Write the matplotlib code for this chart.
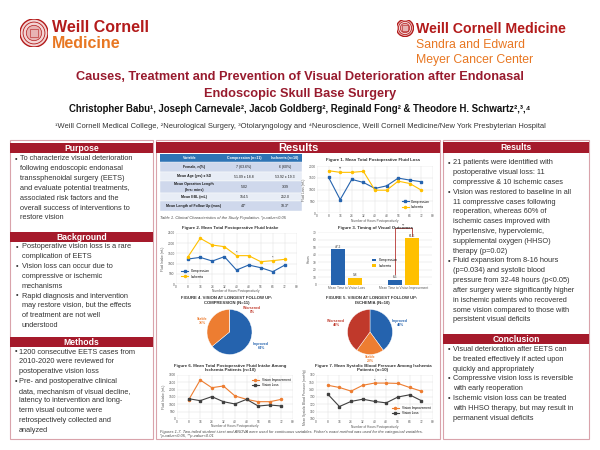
import matplotlib
matplotlib.use('Agg')
import matplotlib.pyplot as plt
from matplotlib.patches import Rectangle, Circle
import numpy as np

plt.rcParams['font.family'] = ['Liberation Sans', 'DejaVu Sans']

# ---------------- data ----------------
hours = [8, 16, 24, 32, 40, 48, 56, 64, 72]
fig1_compression = [1515, 570, 1430, 1300, 1045, 1155, 1485, 1400, 1330]
fig1_ischemia = [1800, 1730, 1730, 1770, 970, 970, 1355, 1255, 970]
fig2_compression = [1225, 1305, 1125, 1340, 685, 930, 800, 605, 930]
fig2_ischemia = [1340, 2240, 1910, 1830, 1390, 1390, 1095, 1145, 1210]
fig3_categories = ['Mean Time to Vision Loss', 'Mean Time to Vision Improvement']
fig3_compression = [47.2, 6.5]
fig3_ischemia = [9.8, 61.5]
pie_labels = ['Improved', 'Stable', 'Worsened']
fig4_values = [64, 36, 0]
fig5_values = [40, 20, 40]
fig6_improvement = [1295, 2660, 2135, 2250, 1570, 1340, 1180, 1180, 1340]
fig6_loss = [1385, 1250, 1525, 1180, 1025, 1340, 885, 955, 885]
fig7_improvement = [146, 143, 138, 146, 149, 149, 148.5, 143, 138]
fig7_loss = [134, 117, 124, 127, 124, 122, 130, 133, 125]

table_columns = ['Variable', 'Compression (n=11)', 'Ischemia (n=10)']
table_variables = ['Female, n(%)', 'Mean Age (yrs) \u00b1 SD', 'Mean Operation Length\n(hrs: mins)',
                   'Mean EBL (mL)', 'Mean Length of Follow Up (mos)']
table_compression = ['7 (63.6%)', '51.09 \u00b1 18.8', '5:02', '154.5', '44*']
table_ischemia = ['6 (60%)', '53.92 \u00b1 19.3', '3:39', '252.0', '18.3*']

purpose_lines = [(True, 'To characterize visual deterioration'), (False, 'following endoscopic endonasal'),
                 (False, 'transsphenoidal surgery (EETS)'), (False, 'and evaluate potential treatments,'),
                 (False, 'associated risk factors and the'), (False, 'overall success of interventions to'),
                 (False, 'restore vision')]
background_lines = [(True, 'Postoperative vision loss is a rare'), (False, 'complication of EETS'),
                    (True, 'Vision loss can occur due to'), (False, 'compressive or ischemic'),
                    (False, 'mechanisms'), (True, 'Rapid diagnosis and intervention'),
                    (False, 'may restore vision, but the effects'), (False, 'of treatment are not well'),
                    (False, 'understood')]
methods_lines = [(True, '1200 consecutive EETS cases from'), (False, '2010-2020 were reviewed for'),
                 (False, 'postoperative vision loss'), (True, 'Pre- and postoperative clinical'),
                 (False, 'data, mechanism of visual decline,'), (False, 'latency to intervention and long-'),
                 (False, 'term visual outcome were'), (False, 'retrospectively collected and'),
                 (False, 'analyzed')]
results_lines = [(True, '21 patients were identified with'), (False, 'postoperative visual loss: 11'),
                 (False, 'compressive & 10 ischemic cases'), (True, 'Vision was restored to baseline in all'),
                 (False, '11 compressive cases following'), (False, 'reoperation, whereas 60% of'),
                 (False, 'ischemic cases improved with'), (False, 'hypertensive, hypervolemic,'),
                 (False, 'supplemental oxygen (HHSO)'), (False, 'therapy (p=0.02)'),
                 (True, 'Fluid expansion from 8-16 hours'), (False, '(p=0.034) and systolic blood'),
                 (False, 'pressure from 32-48 hours (p<0.05)'), (False, 'after surgery were significantly higher'),
                 (False, 'in ischemic patients who recovered'), (False, 'some vision compared to those with'),
                 (False, 'persistent visual deficits')]
conclusion_lines = [(True, 'Visual deterioration after EETS can'), (False, 'be treated effectively if acted upon'),
                    (False, 'quickly and appropriately'), (True, 'Compressive vision loss is reversible'),
                    (False, 'with early reoperation'), (True, 'Ischemic vision loss can be treated'),
                    (False, 'with HHSO therapy, but may result in'), (False, 'permanent visual deficits')]

# ---------------- styles ----------------
WCM_RED = '#B31B1B'
HEAD_RED = '#A51A2B'
TITLE_RED = '#981B2E'
ORANGE_LOGO = '#E87722'
BORDER = '#D9A3AB'
BLUE = '#2563AE'
YELLOW = '#FFC000'
ORANGE = '#ED7D31'
GRAY = '#404040'
PIE_RED = '#C0392B'
TXT = '#333333'

W, H = 600, 450
fig = plt.figure(figsize=(6, 4.5), dpi=100)
fig.patch.set_facecolor('white')


def fx(x):
    return x / W


def fy(y):
    return 1 - y / H


def T(x, y, s, **kw):
    kw.setdefault('va', 'center')
    return fig.text(fx(x), fy(y), s, **kw)


def rect(x0, y0, x1, y1, **kw):
    kw.setdefault('zorder', -2)
    r = Rectangle((fx(x0), fy(y1)), (x1 - x0) / W, (y1 - y0) / H, transform=fig.transFigure, **kw)
    fig.add_artist(r)
    return r


def ax_at(x0, y0, x1, y1):
    ax = fig.add_axes([fx(x0), fy(y1), (x1 - x0) / W, (y1 - y0) / H])
    ax.set_zorder(1)
    return ax


def emblem(cx, cy, r):
    ax = ax_at(cx - r, cy - r, cx + r, cy + r)
    ax.set_xlim(-1, 1)
    ax.set_ylim(-1, 1)
    ax.axis('off')
    ax.add_patch(Circle((0, 0), 1, facecolor='#F3D5D5', edgecolor=WCM_RED, lw=1.0))
    ax.add_patch(Circle((0, 0), 0.78, facecolor='none', edgecolor=WCM_RED, lw=0.6))
    ax.add_patch(Circle((0, 0), 0.55, facecolor='#E7B3B3', edgecolor=WCM_RED, lw=0.5))
    ax.add_patch(Rectangle((-0.3, -0.3), 0.6, 0.6, facecolor='none', edgecolor=WCM_RED, lw=0.4))


# ---------------- header ----------------
emblem(34, 33, 14)
T(52, 28, 'Weill Cornell', color=WCM_RED, fontsize=11.5, fontweight='bold', ha='left')
T(52, 44, 'Medicine', color=ORANGE_LOGO, fontsize=11.5, fontweight='bold', ha='left')
emblem(405, 28, 8.5)
T(416, 29, 'Weill Cornell Medicine', color=WCM_RED, fontsize=10.2, fontweight='bold', ha='left')
T(416, 45, 'Sandra and Edward', color=ORANGE_LOGO, fontsize=8.8, ha='left')
T(416, 60, 'Meyer Cancer Center', color=ORANGE_LOGO, fontsize=8.8, ha='left')

T(300, 77, 'Causes, Treatment and Prevention of Visual Deterioration after Endonasal',
  color=TITLE_RED, fontsize=9.2, fontweight='bold', ha='center')
T(300, 94, 'Endoscopic Skull Base Surgery', color=TITLE_RED, fontsize=9.2, fontweight='bold', ha='center')
T(300, 109, 'Christopher Babu\u00b9, Joseph Carnevale\u00b2, Jacob Goldberg\u00b2, Reginald Fong\u00b2 & '
  'Theodore H. Schwartz\u00b2\u02d2\u00b3\u02d2\u2074'.replace('\u02d2', ','),
  color='#111111', fontsize=6.9, fontweight='bold', ha='center')
T(300, 126, '\u00b9Weill Cornell Medical College, \u00b2Neurological Surgery, \u00b3Otolaryngology and '
  '\u2074Neuroscience, Weill Cornell Medicine/New York Presbyterian Hospital',
  color=TXT, fontsize=5.4, ha='center')

# ---------------- panels ----------------
BODY = 5.35
LINE = 9.8


def panel(x0, x1, y0, y1):
    rect(x0, y0, x1, y1, facecolor='white', edgecolor=BORDER, lw=0.8, zorder=-3)


def header(x0, x1, y0, y1, label, size=6.2):
    rect(x0, y0, x1, y1, facecolor=HEAD_RED, edgecolor='none')
    T((x0 + x1) / 2, (y0 + y1) / 2 + 0.3, label, color='white', fontsize=size, fontweight='bold', ha='center')


def bullets(lines, xb, xt, y0):
    for i, (b, s) in enumerate(lines):
        y = y0 + i * LINE
        if b:
            T(xb, y, '\u2022', color=TXT, fontsize=BODY, ha='left')
        T(xt, y, s, color=TXT, fontsize=BODY, ha='left')


panel(10, 153, 140, 439)
header(10, 153, 143, 153, 'Purpose')
bullets(purpose_lines, 15, 20, 159)
header(10, 153, 232, 242, 'Background')
bullets(background_lines, 16, 22, 247)
header(10, 153, 337, 347, 'Methods')
bullets(methods_lines, 15, 19, 352)

panel(443, 589, 140, 439)
header(443, 589, 142, 153, 'Results')
bullets(results_lines, 448, 453, 163)
header(443, 589, 334, 344, 'Conclusion')
bullets(conclusion_lines, 448, 453, 349.5)

panel(156, 440, 140, 439)
header(156, 440, 142, 153, 'Results', size=8)

# ---------------- table ----------------
col_edges = [160, 220, 268, 302]
T_HEAD = '#2E74B5'
rect(160, 154, 302, 162, facecolor=T_HEAD, edgecolor='none')
for j, c in enumerate(table_columns):
    T((col_edges[j] + col_edges[j + 1]) / 2, 158, c, color='white', fontsize=2.6, fontweight='bold', ha='center')
row_bounds = [(162, 172), (172, 181), (181, 193), (193, 201), (201, 211)]
for i, (r0, r1) in enumerate(row_bounds):
    rect(160, r0, 302, r1, facecolor='#CFD8EC' if i % 2 == 0 else '#E8EDF6', edgecolor='white', lw=0.3)
    yc = (r0 + r1) / 2
    T(194, yc, table_variables[i], color='#1a1a1a', fontsize=2.5, fontweight='bold', ha='center',
      multialignment='center', linespacing=1.4)
    T(244, yc, table_compression[i], color='#1a1a1a', fontsize=2.5, ha='center')
    T(285, yc, table_ischemia[i], color='#1a1a1a', fontsize=2.5, ha='center')
T(160, 217.5, 'Table 1. Clinical Characteristics of the Study Population. *p-value<0.05', color='#444444',
  fontsize=2.9, style='italic', ha='left')

# ---------------- chart helpers ----------------
TICK = 2.3


def style_axes(ax):
    for s in ax.spines.values():
        s.set_visible(False)
    ax.tick_params(length=0, labelsize=TICK, labelcolor='#555555', pad=1)
    ax.grid(True, color='#DDDDDD', lw=0.3)
    ax.set_axisbelow(True)
    ax.patch.set_alpha(0)


def line_chart(box, x, series, colors, names, markers, ylim, ystep, ylabel, legend_kw, stars):
    ax = ax_at(*box)
    style_axes(ax)
    for ys, c, n, m in zip(series, colors, names, markers):
        ax.plot(x, ys, color=c, lw=0.8, marker=m, ms=1.5, label=n)
    ax.set_xlim(0, 80)
    ax.set_xticks(np.arange(0, 81, 8))
    ax.set_ylim(*ylim)
    ax.set_yticks(np.arange(ylim[0], ylim[1] + 1, ystep))
    ax.set_ylabel(ylabel, fontsize=TICK, color='#555555', labelpad=1.5)
    ax.legend(fontsize=TICK, frameon=False, handlelength=2.2, **legend_kw)
    for xs, ys, s in stars:
        ax.text(xs, ys, s, fontsize=3, ha='center', va='bottom', color='#333333')
    return ax


def title2(x, y, s, size=3.2):
    T(x, y, s, color='#333333', fontsize=size, fontweight='bold', ha='center', linespacing=1.3)


# Figure 1
title2(373, 160, 'Figure 1. Mean Total Postoperative Fluid Loss')
line_chart((317, 166, 433, 213), hours, [fig1_compression, fig1_ischemia], [BLUE, YELLOW],
           ['Compression', 'Ischemia'], ['s', 'o'], (0, 2000), 500, 'Fluid Loss (mL)',
           dict(loc='lower right', bbox_to_anchor=(1.0, 0.02)), [(16, 1800, '**')])
T(375, 221, 'Number of Hours Postoperatively', color='#555555', fontsize=TICK, ha='center')

# Figure 2
title2(230, 227.5, 'Figure 2. Mean Total Postoperative Fluid Intake')
line_chart((176, 233, 297, 284), hours, [fig2_compression, fig2_ischemia], [BLUE, YELLOW],
           ['Compression', 'Ischemia'], ['s', 'o'], (0, 2500), 500, 'Fluid Intake (mL)',
           dict(loc='lower left', bbox_to_anchor=(0.02, 0.05)), [(40, 1420, '*'), (64, 1180, '*')])
T(236, 291, 'Number of Hours Postoperatively', color='#555555', fontsize=TICK, ha='center')

# Figure 3
title2(375, 228.5, 'Figure 3. Timing of Visual Outcomes')
ax3 = ax_at(318, 232, 432, 285)
style_axes(ax3)
ax3.grid(False, axis='x')
xpos = np.arange(len(fig3_categories))
bw = 0.24
b1 = ax3.bar(xpos - 0.15, fig3_compression, bw, color=BLUE, label='Compression')
b2 = ax3.bar(xpos + 0.15, fig3_ischemia, bw, color=YELLOW, label='Ischemia')
for bars in (b1, b2):
    for b in bars:
        ax3.text(b.get_x() + b.get_width() / 2, b.get_height() + 1, f'{b.get_height():.1f}',
                 fontsize=2.3, ha='center', va='bottom', color='#333333')
ax3.set_xlim(-0.5, 1.5)
ax3.set_ylim(0, 70)
ax3.set_yticks(np.arange(0, 71, 10))
ax3.set_xticks(xpos)
ax3.set_xticklabels(fig3_categories, fontsize=TICK)
ax3.set_ylabel('Hours', fontsize=TICK, color='#555555', labelpad=1.5)
ax3.legend(fontsize=TICK, frameon=False, loc='center left', bbox_to_anchor=(0.45, 0.42), handlelength=1.2)
bx1 = xpos[1] - 0.15
bx2 = xpos[1] + 0.15
ax3.plot([bx1, bx1, bx2, bx2], [fig3_compression[1] + 8, 75, 75, fig3_ischemia[1] + 3],
         color='#C0504D', lw=0.7, clip_on=False)
ax3.text((bx1 + bx2) / 2, 75.5, '**', fontsize=3, ha='center', va='bottom', color='#333333')

# Pies
pie_colors = [BLUE, ORANGE, PIE_RED]


def pie(cx, cy, r, values):
    ax = ax_at(cx - r, cy - r, cx + r, cy + r)
    ax.pie(values, colors=pie_colors, startangle=90, counterclock=False,
           wedgeprops=dict(linewidth=0.3, edgecolor='white'))
    ax.set_xlim(-1, 1)
    ax.set_ylim(-1, 1)
    ax.set_aspect('equal')


title2(227, 300.5, 'FIGURE 4. VISION AT LONGEST FOLLOW UP:\nCOMPRESSION (N=11)', size=3.1)
pie(229.5, 332, 22.5, fig4_values)
T(252, 310, f'{pie_labels[2]}\n{fig4_values[2]}%', color=PIE_RED, fontsize=2.5, fontweight='bold', ha='center', linespacing=1.2)
T(202, 321, f'{pie_labels[1]}\n{fig4_values[1]}%', color=ORANGE, fontsize=2.5, fontweight='bold', ha='center', linespacing=1.2)
T(261, 346, f'{pie_labels[0]}\n{fig4_values[0]}%', color=BLUE, fontsize=2.5, fontweight='bold', ha='center', linespacing=1.2)

title2(372, 300.5, 'FIGURE 5. VISION AT LONGEST FOLLOW UP:\nISCHEMIA (N=10)', size=3.1)
pie(370, 332, 22.5, fig5_values)
T(336, 323, f'{pie_labels[2]}\n{fig5_values[2]}%', color=PIE_RED, fontsize=2.5, fontweight='bold', ha='center', linespacing=1.2)
T(400, 323, f'{pie_labels[0]}\n{fig5_values[0]}%', color=BLUE, fontsize=2.5, fontweight='bold', ha='center', linespacing=1.2)
T(370, 359, f'{pie_labels[1]}\n{fig5_values[1]}%', color=ORANGE, fontsize=2.5, fontweight='bold', ha='center', linespacing=1.2)

# Figure 6
title2(230, 368, 'Figure 6. Mean Total Postoperative Fluid Intake Among\nIschemia Patients (n=10)')
line_chart((177, 375, 293, 419), hours, [fig6_improvement, fig6_loss], [ORANGE, GRAY],
           ['Vision Improvement', 'Vision Loss'], ['o', 's'], (0, 3000), 500, 'Fluid Intake (mL)',
           dict(loc='upper right', bbox_to_anchor=(1.0, 1.0)), [])
T(235, 426, 'Number of Hours Postoperatively', color='#555555', fontsize=TICK, ha='center')

# Figure 7
title2(373, 368, 'Figure 7. Mean Systolic Blood Pressure Among Ischemia\nPatients (n=10)')
line_chart((316, 375, 433, 419), hours, [fig7_improvement, fig7_loss], [ORANGE, GRAY],
           ['Vision Improvement', 'Vision Loss'], ['o', 's'], (100, 160), 10,
           'Mean Systolic Blood Pressure (mmHg)',
           dict(loc='lower right', bbox_to_anchor=(1.0, 0.02)), [(40, 150, '*'), (48, 150, '*')])
T(375, 427, 'Number of Hours Postoperatively', color='#555555', fontsize=TICK, ha='center')

T(160, 431.5, "Figures 1-7. Two-tailed student t-test and ANOVA were used for continuous variables. "
  "Fisher's exact method was used for the categorical variables.", color='#444444', fontsize=2.9,
  style='italic', ha='left')
T(160, 435.5, '*p-value<0.05, **p-value<0.01', color='#444444', fontsize=2.9, style='italic', ha='left')

fig.savefig('out.png', dpi=100, facecolor='white')
